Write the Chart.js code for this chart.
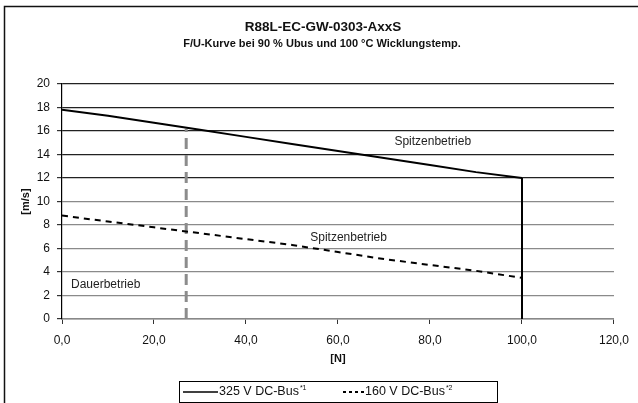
<!DOCTYPE html>
<html>
<head>
<meta charset="utf-8">
<script src="https://cdn.jsdelivr.net/npm/chart.js@4.4.0/dist/chart.umd.min.js"></script>
<style>
    html, body { margin: 0; padding: 0; background: #fff; }
    #wrap { position: relative; width: 638px; height: 403px; }
</style>
</head>
<body>
<div id="wrap"><canvas id="chart" width="638" height="403"></canvas></div>
<script>
const FONT = "'Liberation Sans', Arial, sans-serif";

// F/U curve data
const forceN = [0, 10, 20, 30, 40, 50, 60, 70, 80, 90, 100];
const speed325 = [17.8, 17.3, 16.7, 16.1, 15.5, 14.9, 14.3, 13.7, 13.1, 12.5, 12.0];
const speed160 = [8.8, 8.3, 7.8, 7.3, 6.8, 6.3, 5.7, 5.1, 4.6, 4.1, 3.5];

// limit lines
const contLimitN = [27, 27];
const contLimitV = [0, 16.2];
const peakLimitN = [100, 100];
const peakLimitV = [0, 12];

// zone labels
const zoneLabels = ["Spitzenbetrieb", "Spitzenbetrieb", "Dauerbetrieb"];
const zoneN = [80.6, 62.3, 9.5];
const zoneV = [15.05, 6.92, 2.89];

// axes
const xTicks = [0, 20, 40, 60, 80, 100, 120];
const yMin = 0, yMax = 20, yStep = 2;

const titleText = "R88L-EC-GW-0303-AxxS";
const subtitleText = "F/U-Kurve bei 90 % Ubus und 100 °C Wicklungstemp.";
const legendLabels = ["325 V DC-Bus", "160 V DC-Bus"];
const legendSup = ["*1", "*2"];

function toPoints(xs, ys) {
    return xs.map((x, i) => ({ x: x, y: ys[i] }));
}

const overlay = {
    id: "overlay",
    afterDatasetsDraw(chart) {
        const ctx = chart.ctx;
        const xs = chart.scales.x;
        const ys = chart.scales.y;

        ctx.save();
        ctx.fillStyle = "#222";
        ctx.font = "12px " + FONT;
        ctx.textAlign = "center";
        ctx.textBaseline = "middle";
        zoneLabels.forEach((t, i) => {
            ctx.fillText(t, xs.getPixelForValue(zoneN[i]), ys.getPixelForValue(zoneV[i]));
        });
        ctx.restore();
    },
    afterDraw(chart) {
        const ctx = chart.ctx;
        ctx.save();

        // titles
        ctx.fillStyle = "#111";
        ctx.textAlign = "center";
        ctx.textBaseline = "middle";
        ctx.font = "bold 13.5px " + FONT;
        ctx.fillText(titleText, 323, 27);
        ctx.font = "bold 11px " + FONT;
        ctx.fillText(subtitleText, 322, 44);

        // outer frame (left + top only visible)
        ctx.strokeStyle = "#111";
        ctx.lineWidth = 1.5;
        ctx.beginPath();
        ctx.moveTo(4.5, 403);
        ctx.lineTo(4.5, 6.5);
        ctx.lineTo(638, 6.5);
        ctx.stroke();

        // legend box
        ctx.lineWidth = 1;
        ctx.strokeStyle = "#000";
        ctx.strokeRect(179.5, 381.5, 318, 21);

        const ly = 392;
        ctx.lineWidth = 1.5;
        ctx.beginPath();
        ctx.moveTo(183, ly);
        ctx.lineTo(218, ly);
        ctx.stroke();

        ctx.lineWidth = 2;
        ctx.setLineDash([3, 3]);
        ctx.beginPath();
        ctx.moveTo(343, ly);
        ctx.lineTo(364, ly);
        ctx.stroke();
        ctx.setLineDash([]);

        ctx.textAlign = "left";
        const starts = [219, 365];
        legendLabels.forEach((t, i) => {
            ctx.font = "12.5px " + FONT;
            ctx.fillText(t, starts[i], ly);
            const w = ctx.measureText(t).width;
            ctx.font = "7px " + FONT;
            ctx.fillText(legendSup[i], starts[i] + w + 1, ly - 4);
        });

        ctx.restore();
    }
};

new Chart(document.getElementById("chart"), {
    type: "scatter",
    data: {
        datasets: [
            {
                label: legendLabels[0],
                data: toPoints(forceN, speed325),
                showLine: true,
                borderColor: "#000",
                borderWidth: 2,
                pointRadius: 0,
                tension: 0
            },
            {
                label: "peak limit",
                data: toPoints(peakLimitN, peakLimitV),
                showLine: true,
                borderColor: "#000",
                borderWidth: 2,
                pointRadius: 0
            },
            {
                label: legendLabels[1],
                data: toPoints(forceN, speed160),
                showLine: true,
                borderColor: "#000",
                borderWidth: 2,
                borderDash: [6, 5],
                pointRadius: 0,
                tension: 0
            },
            {
                label: "continuous limit",
                data: toPoints(contLimitN, contLimitV),
                showLine: true,
                borderColor: "#8c8c8c",
                borderWidth: 3,
                borderDash: [11, 6],
                pointRadius: 0
            }
        ]
    },
    options: {
        responsive: false,
        animation: false,
        devicePixelRatio: 1,
        layout: { padding: { left: 0, right: 21, top: 84, bottom: 0 } },
        plugins: {
            legend: { display: false },
            tooltip: { enabled: false }
        },
        scales: {
            x: {
                type: "linear",
                min: 0,
                max: 120,
                afterBuildTicks: (scale) => { scale.ticks = xTicks.map(v => ({ value: v })); },
                afterFit: (scale) => { scale.height = 84; },
                ticks: {
                    color: "#111",
                    font: { family: FONT, size: 12 },
                    padding: 9,
                    maxRotation: 0,
                    callback: (v) => v.toFixed(1).replace(".", ",")
                },
                grid: { drawOnChartArea: false, drawTicks: true, tickLength: 5, tickColor: "#333" },
                border: { color: "#888", width: 1.5 },
                title: {
                    display: true,
                    text: "[N]",
                    color: "#111",
                    font: { family: FONT, size: 11, weight: "bold" },
                    padding: { bottom: 37 }
                }
            },
            y: {
                min: yMin,
                max: yMax,
                afterFit: (scale) => { scale.width = 62; },
                ticks: {
                    stepSize: yStep,
                    color: "#111",
                    font: { family: FONT, size: 12 },
                    padding: 7
                },
                grid: {
                    color: (c) => c.tick && c.tick.value >= 12 ? "#222" : "#8a8a8a",
                    lineWidth: 1.2,
                    tickLength: 5,
                    tickColor: "#333"
                },
                border: { color: "#000", width: 1.2 },
                title: {
                    display: true,
                    text: "[m/s]",
                    color: "#111",
                    font: { family: FONT, size: 11, weight: "bold" },
                    padding: { top: 19 }
                }
            }
        }
    },
    plugins: [overlay]
});
</script>
</body>
</html>
